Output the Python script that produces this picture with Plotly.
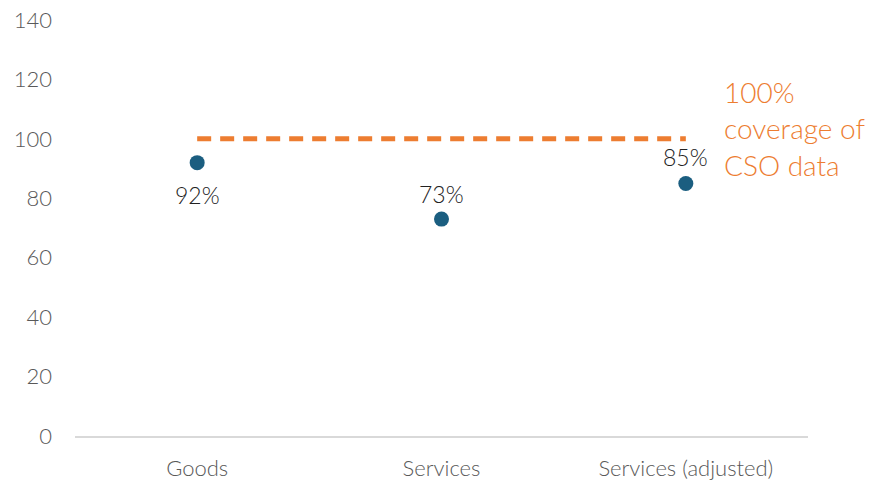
import plotly.graph_objects as go

categories = ["Goods", "Services", "Services (adjusted)"]
coverage = [92, 73, 85]
labels = ["92%", "73%", "85%"]
label_shift = [-32, 25, 26]
reference = [100, 100, 100]
y_ticks = [0, 20, 40, 60, 80, 100, 120, 140]

FONT = "Lato"

fig = go.Figure()
fig.add_trace(go.Scatter(
    x=categories, y=reference, mode="lines",
    line=dict(color="#ED7D31", width=5, dash="14px,9px"),
    hoverinfo="skip", showlegend=False,
))
fig.add_trace(go.Scatter(
    x=categories, y=coverage, mode="markers",
    marker=dict(color="#1B5E80", size=15),
    showlegend=False,
))
for c, v, t, s in zip(categories, coverage, labels, label_shift):
    fig.add_annotation(
        x=c, y=v, text=t, showarrow=False, yshift=s,
        font=dict(family=FONT, size=23, color="#222222", weight=300),
    )
fig.add_annotation(
    x=1, xref="paper", xanchor="left", xshift=-86,
    y=122, yref="y", yanchor="top",
    text="100%<br>coverage of<br>CSO data", showarrow=False, align="left",
    font=dict(family=FONT, size=28, color="#ED7D31", weight=300),
)

fig.update_layout(
    width=870, height=483,
    margin=dict(l=75, r=62, t=20, b=47),
    paper_bgcolor="white", plot_bgcolor="white",
    font=dict(family=FONT, color="#595959", size=20),
)
fig.update_xaxes(
    type="category", range=[-0.5, 2.5], automargin=False,
    showline=True, linecolor="#D9D9D9", linewidth=2,
    showgrid=False, ticks="", tickfont=dict(size=22, color="#595959", weight=300),
    ticklabelstandoff=12,
)
fig.update_yaxes(
    range=[0, 140], tickvals=y_ticks, showgrid=False, zeroline=False, automargin=False,
    showline=False, ticks="", tickfont=dict(size=22, color="#595959", weight=300),
    ticklabelstandoff=22,
)

fig.write_html("out.html")
